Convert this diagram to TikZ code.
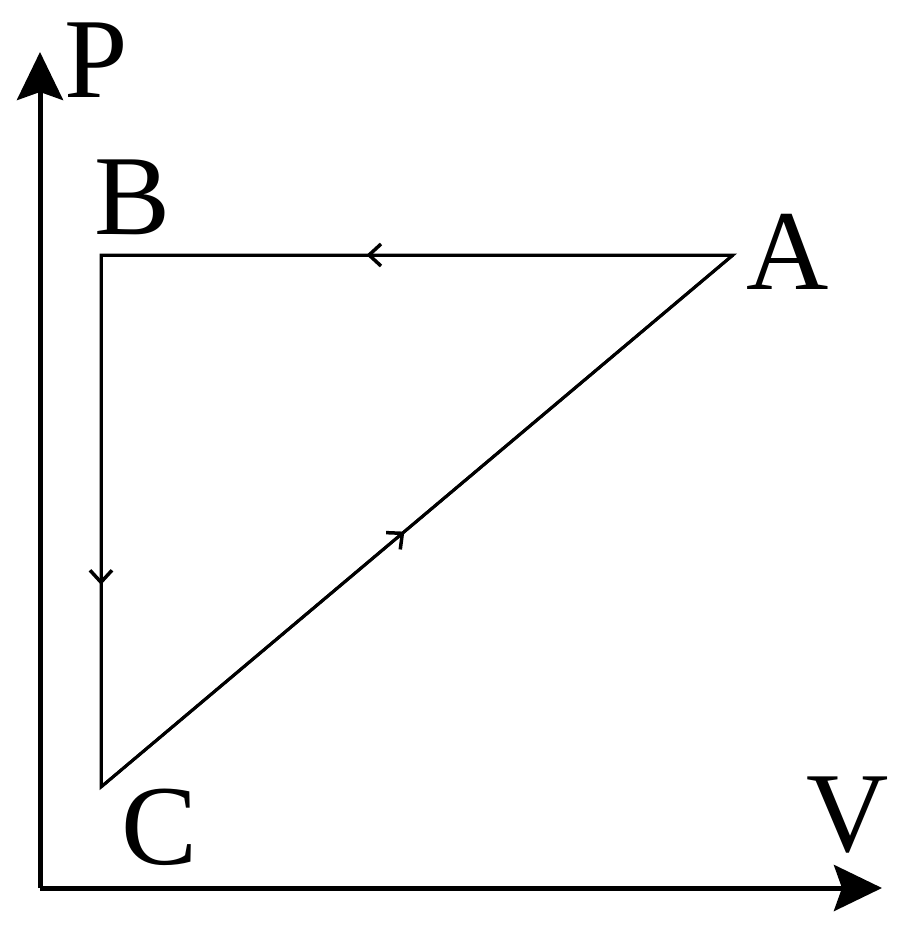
\documentclass[tikz,border=0pt]{standalone}
\usepackage{fontspec}
\setmainfont{Liberation Serif}
\usetikzlibrary{arrows.meta,decorations.markings}
\begin{document}
\begin{tikzpicture}[x=1pt,y=-1pt,
  axis/.style={line width=5pt,-{Stealth[length=48pt,width=46pt,inset=8pt]}},
  edge/.style={line width=3pt},
  midarrow/.style={postaction={decorate},decoration={markings,
     mark=at position #1 with {\arrow[line width=3.5pt]{Straight Barb[length=12pt,width=22pt]}}}},
  lbl/.style={font=\fontsize{114}{114}\selectfont, inner sep=0pt}]
\useasboundingbox (0,0) rectangle (900,930);
\coordinate (O) at (40,888);
\coordinate (Ytip) at (40,52);
\coordinate (Xtip) at (882,888);
\coordinate (A) at (733,255);
\coordinate (B) at (101,255);
\coordinate (C) at (101,787);
\draw[axis] (O) -- (Ytip);
\draw[axis] (O) -- (Xtip);
\draw[edge,midarrow=0.58] (A) -- (B);
\draw[edge,midarrow=0.62] (B) -- (C);
\draw[edge,midarrow=0.48] (C) -- (A);
\draw[edge,line join=miter] (A) -- (B) -- (C) -- cycle;
\node[lbl] (Pl) at (96,60) {P};
\node[lbl] (Bl) at (133,197) {B};
\node[lbl] (Al) at (788,252) {A};
\node[lbl] (Cl) at (160,827) {C};
\node[lbl] (Vl) at (848,815) {V};
\end{tikzpicture}
\end{document}
